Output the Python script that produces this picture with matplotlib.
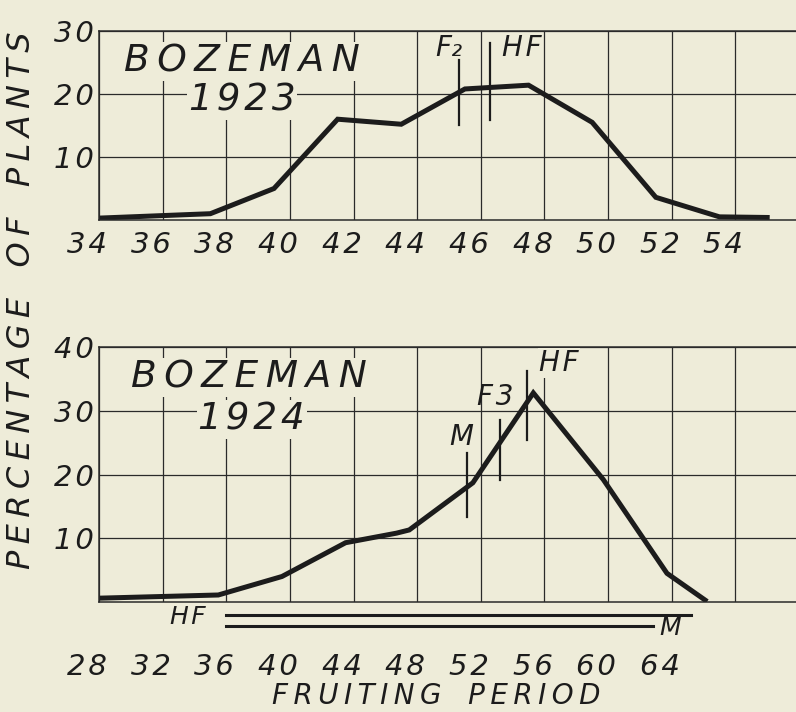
import matplotlib
matplotlib.use("Agg")
import matplotlib.pyplot as plt
import matplotlib.transforms as mtransforms

# 1923 curve
x23 = [34, 37.5, 39.5, 41.5, 43.5, 45.5, 47.5, 49.5, 51.5, 53.5, 55]
y23 = [0.3, 1.0, 5.0, 16.0, 15.2, 20.8, 21.4, 15.5, 3.6, 0.5, 0.4]
ticks23 = [34, 36, 38, 40, 42, 44, 46, 48, 50, 52, 54]
yticks23 = [10, 20, 30]
marks23 = [("F₂", 45.3, 15.1, 25.4), ("HF", 46.3, 15.9, 28.1)]

# 1924 curve
x24 = [28, 35.5, 39.5, 43.5, 46.7, 47.5, 51.5, 55.3, 59.7, 63.7, 66.1]
y24 = [0.6, 1.1, 4.0, 9.3, 10.8, 11.3, 18.7, 32.8, 19.2, 4.5, 0.3]
ticks24 = [28, 32, 36, 40, 44, 48, 52, 56, 60, 64]
yticks24 = [10, 20, 30, 40]
marks24 = [("M", 51.1, 13.3, 23.4), ("F3", 53.2, 19.2, 28.6), ("HF", 54.9, 25.4, 36.3)]
# ranges drawn under the 1924 panel: (start, end, level)
ranges24 = [(36, 65.2, -2.0), (36, 62.8, -3.7)]

BG = "#eeecd9"
INK = "#1c1c1c"
FONT = dict(family="DejaVu Sans", style="oblique", color=INK)
TS = "\u2009"  # thin space
HS = "\u200a"  # hair space


def spaced(s, gap=TS, word="   "):
    # the hand lettering is wide, so open the letters up a bit
    return word.join(gap.join(w) for w in s.split(" "))


fig = plt.figure(figsize=(7.96, 7.12), dpi=100)
fig.patch.set_facecolor(BG)

ax1 = fig.add_axes([99/796, 1 - 220/712, 700/796, 189/712])
ax2 = fig.add_axes([99/796, 1 - 602/712, 700/796, 255/712])


def style(ax, xlim, ylim, xt, yt, xstep, dy_px):
    ax.set_facecolor(BG)
    ax.set_xlim(*xlim)
    ax.set_ylim(*ylim)
    ax.set_xticks([v for v in range(xlim[0], xlim[1] + 1, xstep)])
    ax.set_xticklabels([spaced(str(v), HS) if v in xt else ""
                        for v in range(xlim[0], xlim[1] + 1, xstep)],
                       fontsize=21, **FONT)
    ax.set_yticks(yt)
    ax.set_yticklabels([spaced(str(v), HS) for v in yt], fontsize=21, **FONT)
    ax.tick_params(length=0, pad=4)
    ax.grid(True, color="#2a2a2a", lw=0.9)
    ax.set_axisbelow(True)
    for s in ax.spines.values():
        s.set_color("#2a2a2a")
        s.set_linewidth(1.1)
    ax.spines["right"].set_visible(False)
    off = mtransforms.ScaledTranslation(-12/100, -dy_px/100, fig.dpi_scale_trans)
    for lab in ax.get_xticklabels():
        lab.set_transform(lab.get_transform() + off)


style(ax1, (34, 56), (0, 30), ticks23, yticks23, 2, 5)
style(ax2, (28, 72), (0, 40), ticks24, yticks24, 4, 45)

box = dict(facecolor=BG, edgecolor="none", pad=1)
big = 27
mid = 20

ax1.plot(x23, y23, color=INK, lw=3.6, solid_joinstyle="miter")
for lab, xv, y0, y1 in marks23:
    ax1.plot([xv, xv], [y0, y1], color=INK, lw=1.6)
ax1.text(45.0, 27.3, "F₂", fontsize=mid, ha="center", va="center", **FONT)
ax1.text(47.3, 27.3, spaced("HF", HS), fontsize=mid, ha="center", va="center", bbox=box, **FONT)
ax1.text(38.5, 25.1, spaced("BOZEMAN"), fontsize=big, ha="center", va="center",
         bbox=box, **FONT)
ax1.text(38.5, 19.0, spaced("1923", HS), fontsize=big, ha="center", va="center",
         bbox=box, **FONT)

ax2.plot(x24, y24, color=INK, lw=3.6, solid_joinstyle="miter")
for lab, xv, y0, y1 in marks24:
    ax2.plot([xv, xv], [y0, y1], color=INK, lw=1.6)
ax2.text(50.8, 25.9, "M", fontsize=mid, ha="center", va="center", **FONT)
ax2.text(52.9, 32.2, spaced("F3", HS), fontsize=mid, ha="center", va="center", **FONT)
ax2.text(56.9, 37.5, spaced("HF", HS), fontsize=mid, ha="center", va="center", bbox=box, **FONT)
ax2.text(37.4, 35.2, spaced("BOZEMAN"), fontsize=big, ha="center", va="center",
         bbox=box, **FONT)
ax2.text(37.6, 28.6, spaced("1924", HS), fontsize=big, ha="center", va="center",
         bbox=box, **FONT)

for x0, x1, lvl in ranges24:
    ax2.plot([x0, x1], [lvl, lvl], color=INK, lw=2.2, clip_on=False)
ax2.text(33.6, -2.35, spaced("HF", HS), fontsize=18, ha="center", va="center", **FONT)
ax2.text(63.9, -4.1, "M", fontsize=18, ha="center", va="center", **FONT)

fig.text(22/796, 1 - 300/712, spaced("PERCENTAGE OF PLANTS"), rotation=90,
         fontsize=23, ha="center", va="center", **FONT)
fig.text(436/796, 1 - 696/712, spaced("FRUITING PERIOD"), fontsize=20,
         ha="center", va="center", **FONT)

fig.savefig("out.png", dpi=100, facecolor=BG)
